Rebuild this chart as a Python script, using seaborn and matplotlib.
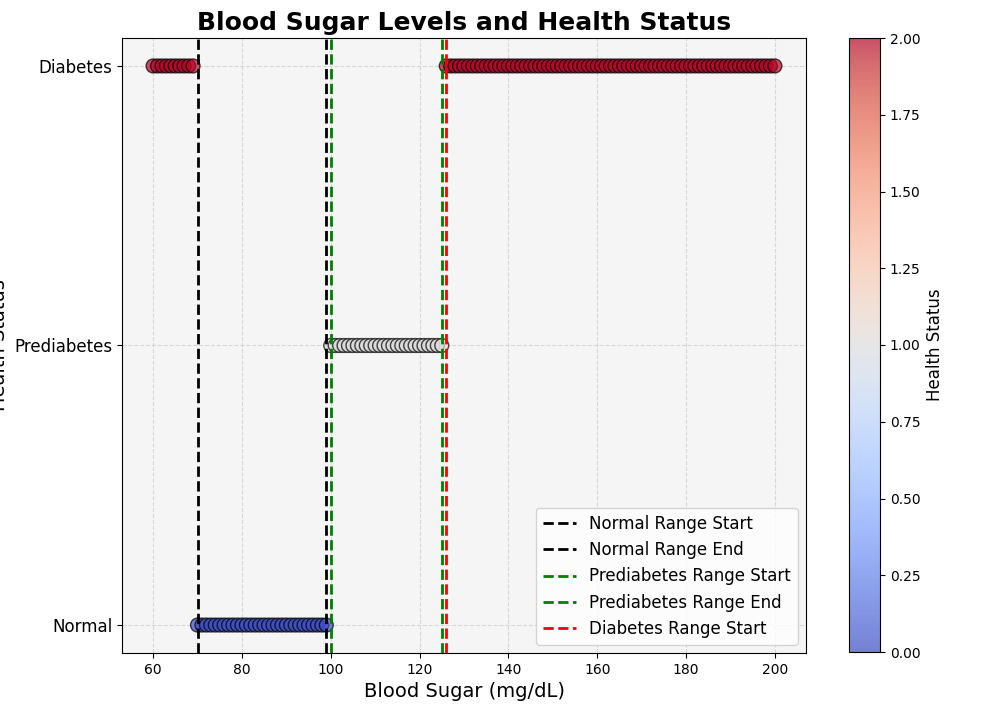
import numpy as np
import pandas as pd
import matplotlib
matplotlib.use("Agg")
import matplotlib.pyplot as plt
import seaborn as sns

# Data
blood_sugar = list(range(60, 201))
status_names = ["Normal", "Prediabetes", "Diabetes"]
def classify(v):
    if 70 <= v < 100:
        return 0
    elif 100 <= v <= 125:
        return 1
    else:
        return 2
status_codes = [classify(v) for v in blood_sugar]

range_lines = [
    ("Normal Range Start", 70, "black"),
    ("Normal Range End", 99, "black"),
    ("Prediabetes Range Start", 100, "green"),
    ("Prediabetes Range End", 125, "green"),
    ("Diabetes Range Start", 126, "red"),
]

df = pd.DataFrame({"Blood Sugar": blood_sugar, "Status": status_codes})

fig = plt.figure(figsize=(9.9, 7.09), dpi=100)
W, H = 990, 709
ax = fig.add_axes([122 / W, 1 - 653 / H, (806 - 122) / W, (653 - 38) / H])
cax = fig.add_axes([849 / W, 1 - 652 / H, 31 / W, (652 - 38) / H])

ax.set_facecolor("#f5f5f5")
cmap = plt.get_cmap("coolwarm")
norm = matplotlib.colors.Normalize(vmin=0, vmax=2)

sns.scatterplot(data=df, x="Blood Sugar", y="Status", hue="Status",
                palette="coolwarm", hue_norm=(0, 2), s=100, alpha=0.7,
                edgecolor="black", linewidth=1, legend=False, ax=ax, zorder=3)

for label, xv, col in range_lines:
    ax.axvline(xv, color=col, linestyle="--", linewidth=2, label=label, zorder=4)

ax.set_yticks([0, 1, 2])
ax.set_yticklabels(status_names, fontsize=12)
ax.set_xticks(np.arange(60, 201, 20))
ax.set_ylim(-0.1, 2.1)
ax.set_xlim(53, 207)
ax.grid(True, linestyle="--", color="lightgray", alpha=0.9, zorder=0)
ax.set_axisbelow(True)
ax.set_xlabel("Blood Sugar (mg/dL)", fontsize=14)
ax.set_ylabel("Health Status", fontsize=14)
ax.set_title("Blood Sugar Levels and Health Status", fontsize=18, fontweight="bold")
ax.legend(loc="lower right", fontsize=12)

sm = matplotlib.cm.ScalarMappable(norm=norm, cmap=cmap)
sm.set_array([])
cbar = fig.colorbar(sm, cax=cax)
cbar.solids.set_alpha(0.7)
cbar.set_label("Health Status", fontsize=12)

fig.savefig("out.png", dpi=100)
